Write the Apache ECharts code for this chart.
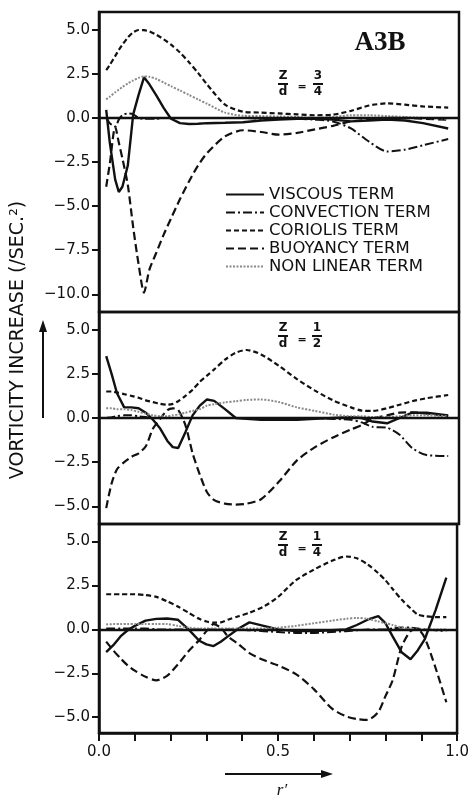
<!DOCTYPE html>
<html>
<head>
<meta charset="utf-8">
<script src="https://cdn.jsdelivr.net/npm/echarts@6/dist/echarts.min.js"></script>
<style>
  html, body { margin: 0; padding: 0; background: #fff; }
  #chart { width: 472px; height: 797px; }
</style>
</head>
<body>
<div id="chart"></div>
<script>
// r' positions
var rTop = [0.02, 0.03, 0.045, 0.055, 0.065, 0.08, 0.095, 0.11, 0.125, 0.14, 0.16, 0.18, 0.2, 0.225, 0.25, 0.275, 0.3, 0.35, 0.4, 0.45, 0.5, 0.55, 0.6, 0.65, 0.7, 0.75, 0.8, 0.85, 0.9, 0.97];
var rMid = [0.02, 0.035, 0.05, 0.07, 0.09, 0.11, 0.13, 0.15, 0.17, 0.19, 0.205, 0.22, 0.24, 0.26, 0.28, 0.3, 0.32, 0.35, 0.38, 0.41, 0.45, 0.5, 0.55, 0.6, 0.65, 0.7, 0.73, 0.76, 0.8, 0.835, 0.87, 0.91, 0.97];
var rBot = [0.02, 0.04, 0.06, 0.08, 0.1, 0.13, 0.16, 0.19, 0.22, 0.25, 0.28, 0.3, 0.32, 0.34, 0.36, 0.39, 0.42, 0.46, 0.5, 0.55, 0.6, 0.65, 0.69, 0.72, 0.75, 0.78, 0.8, 0.82, 0.845, 0.87, 0.89, 0.91, 0.94, 0.97];

// Z/d = 3/4
var viscousTop    = [0.45, -1.4, -3.5, -4.2, -3.9, -2.7, 0.2, 1.3, 2.3, 1.9, 1.25, 0.55, -0.05, -0.3, -0.35, -0.33, -0.3, -0.28, -0.25, -0.15, -0.1, -0.05, -0.05, -0.1, -0.2, -0.15, -0.1, -0.15, -0.3, -0.6];
var convectionTop = [0.0, -0.3, -0.5, -0.1, 0.15, 0.25, 0.2, 0.0, -0.05, -0.05, -0.05, 0.0, 0.0, 0.0, 0.0, 0.0, 0.0, 0.0, 0.0, -0.05, -0.05, -0.05, -0.1, -0.2, -0.6, -1.35, -1.9, -1.8, -1.55, -1.2];
var coriolisTop   = [2.7, 3.0, 3.5, 3.85, 4.15, 4.55, 4.85, 4.98, 4.97, 4.9, 4.7, 4.45, 4.15, 3.7, 3.15, 2.55, 1.9, 0.75, 0.35, 0.3, 0.25, 0.2, 0.15, 0.18, 0.4, 0.7, 0.82, 0.75, 0.65, 0.58];
var buoyancyTop   = [-3.9, -2.6, -0.5, -1.4, -2.3, -3.8, -6.2, -8.3, -9.9, -8.6, -7.6, -6.6, -5.7, -4.6, -3.6, -2.7, -2.0, -1.05, -0.7, -0.8, -0.95, -0.85, -0.65, -0.45, -0.2, -0.1, 0.0, 0.0, -0.05, -0.1];
var nonlinearTop  = [1.05, 1.2, 1.45, 1.6, 1.75, 1.95, 2.12, 2.27, 2.35, 2.33, 2.2, 2.0, 1.8, 1.55, 1.3, 1.05, 0.8, 0.3, 0.12, 0.1, 0.08, 0.05, 0.0, 0.05, 0.15, 0.15, 0.1, 0.05, 0.0, -0.05];

// Z/d = 1/2
var viscousMid    = [3.5, 2.5, 1.4, 0.6, 0.6, 0.55, 0.3, -0.1, -0.6, -1.3, -1.65, -1.7, -0.8, 0.15, 0.7, 1.05, 0.97, 0.5, 0.0, -0.05, -0.1, -0.1, -0.1, -0.05, 0.0, 0.05, 0.0, -0.2, -0.3, 0.0, 0.3, 0.3, 0.15];
var convectionMid = [0.0, 0.05, 0.1, 0.15, 0.15, 0.1, 0.05, 0.0, 0.0, 0.0, 0.0, 0.0, 0.0, 0.0, 0.0, 0.0, 0.0, 0.0, 0.0, 0.0, 0.0, 0.0, 0.0, 0.0, -0.05, -0.1, -0.25, -0.5, -0.55, -0.95, -1.7, -2.1, -2.15];
var coriolisMid   = [1.5, 1.5, 1.45, 1.35, 1.25, 1.15, 1.0, 0.9, 0.8, 0.75, 0.8, 0.95, 1.25, 1.6, 2.05, 2.4, 2.75, 3.3, 3.7, 3.85, 3.6, 2.95, 2.2, 1.55, 1.0, 0.6, 0.42, 0.4, 0.55, 0.75, 0.95, 1.12, 1.3];
var buoyancyMid   = [-5.1, -3.7, -2.9, -2.5, -2.2, -2.0, -1.6, -0.6, -0.05, 0.45, 0.55, 0.45, -0.4, -2.0, -3.2, -4.2, -4.65, -4.85, -4.9, -4.85, -4.6, -3.6, -2.4, -1.65, -1.1, -0.65, -0.4, -0.05, 0.15, 0.3, 0.32, 0.25, 0.1];
var nonlinearMid  = [0.55, 0.55, 0.5, 0.5, 0.45, 0.35, 0.25, 0.15, 0.1, 0.1, 0.15, 0.2, 0.3, 0.4, 0.5, 0.7, 0.78, 0.88, 0.95, 1.02, 1.05, 0.9, 0.6, 0.4, 0.2, 0.1, 0.1, 0.05, 0.05, 0.1, 0.15, 0.15, 0.1];

// Z/d = 1/4
var viscousBot    = [-1.3, -0.9, -0.4, -0.05, 0.2, 0.5, 0.6, 0.62, 0.55, 0.0, -0.65, -0.85, -0.95, -0.7, -0.4, 0.05, 0.4, 0.2, 0.0, -0.1, -0.1, -0.05, 0.0, 0.25, 0.55, 0.75, 0.35, -0.4, -1.3, -1.7, -1.2, -0.55, 1.1, 2.95];
var convectionBot = [0.05, 0.05, 0.05, 0.05, 0.05, 0.05, 0.0, 0.0, 0.0, 0.0, 0.0, 0.0, 0.0, 0.0, 0.0, 0.0, -0.05, -0.1, -0.15, -0.2, -0.2, -0.15, -0.1, -0.05, 0.0, 0.0, 0.0, 0.05, 0.1, 0.1, 0.05, 0.0, -0.05, -0.1];
var coriolisBot   = [2.0, 2.0, 2.0, 2.0, 2.0, 1.95, 1.85, 1.6, 1.3, 0.95, 0.6, 0.45, 0.38, 0.4, 0.55, 0.75, 0.95, 1.3, 1.85, 2.8, 3.4, 3.9, 4.15, 4.05, 3.7, 3.2, 2.8, 2.3, 1.7, 1.2, 0.85, 0.75, 0.7, 0.7];
var buoyancyBot   = [-0.7, -1.2, -1.65, -2.05, -2.35, -2.7, -2.9, -2.65, -2.0, -1.25, -0.6, -0.1, 0.3, 0.1, -0.4, -0.85, -1.35, -1.75, -2.05, -2.55, -3.4, -4.5, -4.95, -5.1, -5.15, -4.7, -3.8, -2.9, -1.0, -0.1, 0.0, -0.5, -2.2, -4.15];
var nonlinearBot  = [0.28, 0.3, 0.3, 0.3, 0.3, 0.3, 0.3, 0.3, 0.2, 0.1, 0.05, 0.05, 0.05, 0.05, 0.05, 0.05, 0.05, 0.05, 0.1, 0.2, 0.35, 0.5, 0.6, 0.65, 0.6, 0.45, 0.35, 0.25, 0.1, 0.05, 0.0, 0.0, 0.0, 0.0];

var topTicks = [-10, -7.5, -5, -2.5, 0, 2.5, 5];
var lowTicks = [-5, -2.5, 0, 2.5, 5];

var names = ['VISCOUS TERM', 'CONVECTION TERM', 'CORIOLIS TERM', 'BUOYANCY TERM', 'NON LINEAR TERM'];
var lineStyles = {
    'VISCOUS TERM':    {color: '#111', width: 2.4, type: 'solid'},
    'CONVECTION TERM': {color: '#111', width: 2, type: [9, 3, 2, 3]},
    'CORIOLIS TERM':   {color: '#111', width: 2.2, type: [5, 3]},
    'BUOYANCY TERM':   {color: '#111', width: 2.2, type: [8, 4]},
    'NON LINEAR TERM': {color: '#8a8a8a', width: 2, type: [2, 1.5]}
};

var panels = [
    {r: rTop, vals: [viscousTop, convectionTop, coriolisTop, buoyancyTop, nonlinearTop]},
    {r: rMid, vals: [viscousMid, convectionMid, coriolisMid, buoyancyMid, nonlinearMid]},
    {r: rBot, vals: [viscousBot, convectionBot, coriolisBot, buoyancyBot, nonlinearBot]}
];

var font = 'DejaVu Sans';
function fmtY(v) {
    return (v < 0 ? '\u2212' : '') + Math.abs(v).toFixed(1);
}

var series = [];
panels.forEach(function (p, gi) {
    names.forEach(function (nm, k) {
        var s = {
            name: nm,
            type: 'line',
            xAxisIndex: gi,
            yAxisIndex: gi,
            symbol: 'none',
            smooth: k === 0 ? false : 0.25,
            color: lineStyles[nm].color,
            lineStyle: lineStyles[nm],
            data: p.r.map(function (x, i) { return [x, p.vals[k][i]]; })
        };
        if (k === 0) {
            // the zero reference line across the panel
            s.markLine = {
                silent: true,
                symbol: 'none',
                label: {show: false},
                lineStyle: {color: '#111', width: 2.4, type: 'solid'},
                data: [{yAxis: 0}]
            };
        }
        series.push(s);
    });
});

function yAx(min, max, ticks) {
    return {
        type: 'value', min: min, max: max,
        splitLine: {show: false},
        axisLine: {show: true, lineStyle: {color: '#111', width: 2.5}},
        axisTick: {show: true, customValues: ticks, length: 7, lineStyle: {color: '#111', width: 2}},
        axisLabel: {customValues: ticks, formatter: fmtY, color: '#111', fontSize: 15, fontFamily: font, margin: 9}
    };
}
function xAx(gi, show) {
    return {
        type: 'value', gridIndex: gi, min: 0, max: 1, interval: 0.1,
        splitLine: {show: false},
        axisLine: {show: show, onZero: false, lineStyle: {color: '#111', width: 2.5}},
        axisTick: {show: show, length: 8, lineStyle: {color: '#111', width: 2}},
        axisLabel: {
            show: show, color: '#111', fontSize: 15, fontFamily: font, margin: 12,
            formatter: function (v) {
                return Math.abs(v * 2 - Math.round(v * 2)) < 1e-6 ? v.toFixed(1) : '';
            }
        }
    };
}

function frac(cx, cy, num, den) {
    var st = {fill: '#111', fontSize: 12, fontWeight: 'bold', fontFamily: font, textAlign: 'center', textVerticalAlign: 'middle'};
    return [
        {type: 'text', x: cx, y: cy - 8, style: Object.assign({text: num}, st)},
        {type: 'rect', shape: {x: cx - 5, y: cy - 1, width: 10, height: 2}, style: {fill: '#111'}},
        {type: 'text', x: cx, y: cy + 8, style: Object.assign({text: den}, st)}
    ];
}
function eq(cx, cy) {
    return {type: 'text', x: cx, y: cy, style: {text: '=', fill: '#111', fontSize: 11, fontWeight: 'bold', fontFamily: font, textAlign: 'center', textVerticalAlign: 'middle'}};
}

var graphics = [
    {type: 'text', x: 380, y: 43, style: {text: 'A3B', fill: '#111', fontSize: 27, fontWeight: 'bold', fontFamily: 'Liberation Serif', textAlign: 'center', textVerticalAlign: 'middle'}},
    {type: 'text', x: 18, y: 340, rotation: Math.PI / 2,
        style: {text: 'VORTICITY INCREASE (/SEC.\u00b2)', fill: '#111', fontSize: 19, fontFamily: font, textAlign: 'center', textVerticalAlign: 'middle'}},
    {type: 'line', shape: {x1: 43, y1: 418, x2: 43, y2: 328}, style: {stroke: '#111', lineWidth: 2}},
    {type: 'polygon', shape: {points: [[43, 320], [39, 332], [47, 332]]}, style: {fill: '#111'}},
    {type: 'line', shape: {x1: 225, y1: 774, x2: 324, y2: 774}, style: {stroke: '#111', lineWidth: 2}},
    {type: 'polygon', shape: {points: [[333, 774], [321, 770], [321, 778]]}, style: {fill: '#111'}},
    {type: 'text', x: 282, y: 791, style: {text: 'r\u2032', fill: '#111', fontSize: 17, fontStyle: 'italic', fontFamily: 'Liberation Serif', textAlign: 'center', textVerticalAlign: 'middle'}},
    eq(302, 87), eq(302, 340), eq(302, 549)
].concat(frac(283, 84, 'Z', 'd'), frac(318, 84, '3', '4'),
         frac(283, 336, 'Z', 'd'), frac(317, 336, '1', '2'),
         frac(283, 545, 'Z', 'd'), frac(317, 545, '1', '4'));

var mychart = echarts.init(document.getElementById('chart'));
var option = {
    backgroundColor: '#fff',
    animation: false,
    legend: {
        orient: 'vertical',
        left: 225, top: 186, padding: 0,
        itemWidth: 38, itemHeight: 12, itemGap: 1,
        data: names,
        itemStyle: {opacity: 0},
        textStyle: {color: '#111', fontSize: 16.5, fontFamily: font, lineHeight: 16}
    },
    grid: [
        {left: 99, right: 13, top: 12, height: 300, show: true, borderColor: '#111', borderWidth: 2.5},
        {left: 99, right: 13, top: 312, height: 212, show: true, borderColor: '#111', borderWidth: 2.5},
        {left: 99, right: 13, top: 524, height: 209, show: true, borderColor: '#111', borderWidth: 2.5}
    ],
    xAxis: [xAx(0, false), xAx(1, false), xAx(2, true)],
    yAxis: [
        Object.assign(yAx(-11, 6, topTicks), {gridIndex: 0}),
        Object.assign(yAx(-6, 6, lowTicks), {gridIndex: 1}),
        Object.assign(yAx(-5.9, 6, lowTicks), {gridIndex: 2})
    ],
    graphic: graphics,
    series: series
};
mychart.setOption(option);
</script>
</body>
</html>
